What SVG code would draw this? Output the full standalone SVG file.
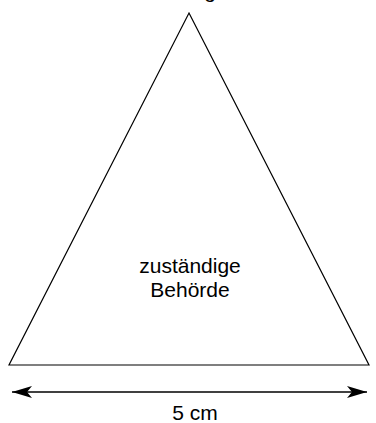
<svg xmlns="http://www.w3.org/2000/svg" width="376" height="423" viewBox="0 0 376 423">
<style>
.t{font-family:"Liberation Sans",Arial,Helvetica,sans-serif;font-size:21px;fill:#000;text-anchor:middle}
.s{fill:#fff;stroke:#000;stroke-width:1.2}
.c{stroke:#000;stroke-width:1.3;fill:none}
</style>
<defs>
<marker id="ah" viewBox="0 0 20 12" refX="20" refY="6" markerWidth="20" markerHeight="12" markerUnits="userSpaceOnUse" orient="auto-start-reverse">
<path d="M0,0 L20,6 L0,12 L5,6 Z" fill="#000"/>
</marker>
</defs>
<rect width="376" height="423" fill="#fff"/>
<g id="top-label"><text class="t" x="210" y="-2">g</text></g>
<g id="triangle">
<path class="s" d="M189,13 L369,365 L9,365 Z"/>
<text class="t" x="190" y="273">zuständige</text>
<text class="t" x="190" y="297">Behörde</text>
</g>
<g id="connectors">
<line class="c" x1="12" y1="392" x2="367" y2="392" marker-start="url(#ah)" marker-end="url(#ah)"/>
</g>
<g id="dimension-label"><text class="t" x="195" y="420">5 cm</text></g>
</svg>
